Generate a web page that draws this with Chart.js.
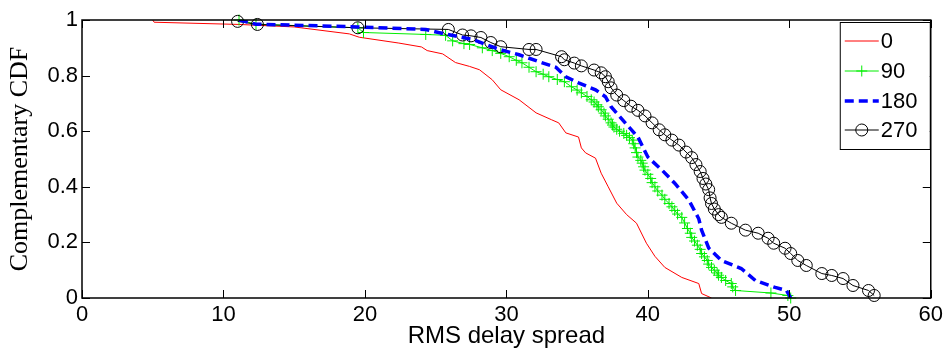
<!DOCTYPE html>
<html><head><meta charset="utf-8">
<script src="https://cdn.jsdelivr.net/npm/chart.js@4"></script>
<style>html,body{margin:0;padding:0;background:#fff}</style>
</head><body>
<canvas id="c" width="947" height="356"></canvas>
<script>
// ---- data ----
const seriesLabels = ['0', '90', '180', '270'];
const xTickValues = [0, 10, 20, 30, 40, 50, 60];
const yTickValues = [0, 0.2, 0.4, 0.6, 0.8, 1];
const yTickLabels = ['0', '0.2', '0.4', '0.6', '0.8', '1'];

const s0_x = [5.0, 5.1, 11.1, 15.0, 18.9, 19.6, 22.4, 24.0, 24.4, 25.5, 26.4, 27.4, 28.1, 29.0, 29.6, 30.9, 32.1, 33.2, 33.7, 34.2, 35.1, 35.3, 35.6, 36.3, 36.7, 37.2, 37.8, 38.5, 39.2, 39.9, 40.5, 41.2, 42.4, 43.6, 43.8, 44.5];
const s0_y = [1.0, 0.992, 0.984, 0.975, 0.950, 0.938, 0.917, 0.903, 0.890, 0.878, 0.847, 0.833, 0.821, 0.785, 0.749, 0.713, 0.666, 0.641, 0.630, 0.594, 0.579, 0.540, 0.522, 0.503, 0.449, 0.400, 0.341, 0.300, 0.269, 0.197, 0.150, 0.110, 0.074, 0.052, 0.016, 0.0];

const s90_x = [11.1, 12.3, 19.5, 19.9, 24.3, 25.7, 26.2, 27.0, 27.4, 28.3, 29.0, 29.6, 30.2, 30.7, 31.1, 31.6, 32.1, 32.6, 33.0, 33.6, 34.1, 34.6, 35.0, 35.3, 35.7, 36.0, 36.2, 36.4, 36.5, 36.7, 36.9, 37.0, 37.2, 37.4, 37.5, 37.6, 37.8, 38.0, 38.3, 38.5, 38.7, 38.9, 39.0, 39.1, 39.2, 39.3, 39.5, 39.6, 39.7, 39.8, 40.0, 40.2, 40.3, 40.5, 40.7, 41.0, 41.2, 41.5, 41.7, 41.9, 42.1, 42.4, 42.6, 42.8, 43.0, 43.1, 43.3, 43.5, 43.7, 43.8, 44.0, 44.2, 44.3, 44.5, 44.7, 44.9, 45.0, 45.2, 45.5, 45.9, 46.0, 46.2, 48.7, 49.9, 50.1];
const s90_y = [1.0, 0.985, 0.972, 0.955, 0.948, 0.945, 0.925, 0.915, 0.912, 0.900, 0.890, 0.880, 0.868, 0.855, 0.846, 0.830, 0.814, 0.805, 0.796, 0.786, 0.778, 0.760, 0.748, 0.738, 0.725, 0.713, 0.705, 0.695, 0.688, 0.677, 0.665, 0.655, 0.643, 0.630, 0.622, 0.615, 0.607, 0.600, 0.592, 0.585, 0.577, 0.568, 0.555, 0.540, 0.523, 0.507, 0.495, 0.485, 0.472, 0.460, 0.445, 0.430, 0.415, 0.400, 0.385, 0.370, 0.355, 0.340, 0.328, 0.315, 0.302, 0.290, 0.270, 0.250, 0.233, 0.218, 0.205, 0.190, 0.175, 0.160, 0.148, 0.135, 0.122, 0.110, 0.100, 0.090, 0.082, 0.074, 0.063, 0.052, 0.040, 0.027, 0.018, 0.009, 0.0];

const s180_x = [11.1, 12.3, 19.5, 24.3, 25.2, 27.6, 29.5, 30.9, 32.3, 33.5, 34.2, 35.1, 36.3, 37.0, 37.4, 38.4, 39.3, 40.0, 41.0, 41.9, 42.9, 43.6, 43.8, 44.3, 45.2, 46.6, 47.6, 49.0, 49.8, 50.1];
const s180_y = [1.0, 0.985, 0.975, 0.966, 0.955, 0.930, 0.894, 0.875, 0.850, 0.830, 0.796, 0.774, 0.749, 0.724, 0.688, 0.630, 0.579, 0.507, 0.460, 0.413, 0.352, 0.285, 0.244, 0.180, 0.135, 0.106, 0.063, 0.038, 0.027, 0.0];

const s270_x = [11.0, 12.4, 19.5, 25.9, 26.9, 27.5, 28.2, 28.9, 29.6, 31.6, 32.1, 33.9, 34.1, 34.8, 35.3, 36.2, 36.7, 37.0, 37.2, 37.4, 37.8, 38.3, 38.8, 39.3, 39.8, 40.3, 40.8, 41.2, 41.7, 42.2, 42.7, 43.1, 43.4, 43.7, 43.9, 44.1, 44.3, 44.4, 44.5, 44.7, 45.0, 45.2, 45.9, 46.9, 47.8, 48.5, 48.9, 49.7, 50.1, 50.6, 51.2, 52.3, 53.0, 53.8, 54.5, 55.6, 56.0];
const s270_y = [0.995, 0.984, 0.972, 0.966, 0.946, 0.943, 0.937, 0.919, 0.904, 0.894, 0.894, 0.868, 0.857, 0.845, 0.835, 0.820, 0.810, 0.796, 0.778, 0.756, 0.730, 0.710, 0.690, 0.675, 0.655, 0.630, 0.605, 0.587, 0.568, 0.550, 0.525, 0.505, 0.480, 0.455, 0.430, 0.410, 0.390, 0.360, 0.340, 0.320, 0.300, 0.290, 0.269, 0.244, 0.233, 0.215, 0.197, 0.179, 0.160, 0.135, 0.117, 0.088, 0.081, 0.070, 0.045, 0.027, 0.009];

const zip = (xs, ys) => xs.map((x, i) => ({ x: x, y: ys[i] }));

const SANS = 'Liberation Sans, Arial, sans-serif';
const SERIF = 'Liberation Serif, Times New Roman, serif';

const datasets = [
  { label: seriesLabels[0], data: zip(s0_x, s0_y), borderColor: '#ff0000', borderWidth: 1, pointRadius: 0, showLine: true, order: 4 },
  { label: seriesLabels[1], data: zip(s90_x, s90_y), borderColor: '#00ee00', borderWidth: 1, pointStyle: 'cross', pointRadius: 5.5, pointBorderColor: '#00ee00', pointBorderWidth: 1, showLine: true, order: 3, clip: false },
  { label: seriesLabels[2], data: zip(s180_x, s180_y), borderColor: '#0000ff', borderWidth: 3.5, borderDash: [9, 5], pointRadius: 0, showLine: true, order: 1 },
  { label: seriesLabels[3], data: zip(s270_x, s270_y), borderColor: '#000000', borderWidth: 1, pointStyle: 'circle', pointRadius: 6, pointBorderColor: '#000000', pointBackgroundColor: 'rgba(0,0,0,0)', pointBorderWidth: 1, showLine: true, order: 2, clip: false }
];

const frame = {
  id: 'frame',
  afterDraw(chart) {
    const { ctx, chartArea: a, scales: { x, y } } = chart;
    ctx.save();
    ctx.strokeStyle = '#000';
    ctx.lineWidth = 1;
    const TL = 8;
    ctx.beginPath();
    xTickValues.forEach(v => {
      const px = Math.round(x.getPixelForValue(v)) + 0.5;
      ctx.moveTo(px, a.bottom); ctx.lineTo(px, a.bottom - TL);
      ctx.moveTo(px, a.top); ctx.lineTo(px, a.top + TL);
    });
    yTickValues.forEach(v => {
      const py = Math.round(y.getPixelForValue(v)) + 0.5;
      ctx.moveTo(a.left, py); ctx.lineTo(a.left + TL, py);
      ctx.moveTo(a.right, py); ctx.lineTo(a.right - TL, py);
    });
    ctx.stroke();
    ctx.lineWidth = 1.5;
    ctx.strokeRect(a.left, a.top, a.right - a.left, a.bottom - a.top);

    // legend box
    const bx = a.right - 91, by = a.top + 2, bw = 90, bh = 127;
    ctx.fillStyle = '#fff';
    ctx.fillRect(bx, by, bw, bh);
    ctx.lineWidth = 1;
    ctx.strokeRect(bx + 0.5, by + 0.5, bw, bh);
    const rows = [19, 49, 79, 108];
    ctx.font = '22px ' + SANS;
    ctx.textBaseline = 'middle';
    ctx.textAlign = 'left';
    datasets.forEach((d, i) => {
      const yy = by + rows[i];
      const x0 = bx + 5, x1 = bx + 39;
      ctx.save();
      ctx.strokeStyle = d.borderColor;
      ctx.lineWidth = d.borderWidth;
      if (d.borderDash) ctx.setLineDash(d.borderDash);
      ctx.beginPath(); ctx.moveTo(x0, yy); ctx.lineTo(x1, yy); ctx.stroke();
      ctx.restore();
      if (d.pointStyle && d.pointRadius > 0) {
        const cx = (x0 + x1) / 2;
        ctx.save();
        ctx.strokeStyle = d.pointBorderColor; ctx.lineWidth = 1;
        ctx.beginPath();
        if (d.pointStyle === 'circle') {
          ctx.arc(cx, yy, d.pointRadius, 0, Math.PI * 2);
        } else {
          ctx.moveTo(cx - d.pointRadius, yy); ctx.lineTo(cx + d.pointRadius, yy);
          ctx.moveTo(cx, yy - d.pointRadius); ctx.lineTo(cx, yy + d.pointRadius);
        }
        ctx.stroke();
        ctx.restore();
      }
      ctx.fillStyle = '#000';
      ctx.fillText(d.label, bx + 41, yy + 1);
    });
    ctx.restore();
  }
};

new Chart(document.getElementById('c'), {
  type: 'scatter',
  data: { datasets: datasets },
  options: {
    responsive: false,
    animation: false,
    devicePixelRatio: 1,
    layout: { padding: { left: 0, right: 14, top: 20, bottom: 0 } },
    plugins: { legend: { display: false }, tooltip: { enabled: false } },
    elements: { line: { tension: 0, fill: false } },
    scales: {
      x: {
        type: 'linear', min: 0, max: 60,
        afterBuildTicks: s => { s.ticks = xTickValues.map(v => ({ value: v })); },
        afterFit: s => { s.height = 58; },
        grid: { display: false, drawTicks: false },
        border: { display: false },
        ticks: { color: '#000', font: { family: SANS, size: 22 }, padding: 4, maxRotation: 0, autoSkip: false, callback: v => String(v) },
        title: { display: true, text: 'RMS delay spread', color: '#000', font: { family: SANS, size: 24 }, padding: { top: 0, bottom: 5 } }
      },
      y: {
        type: 'linear', min: 0, max: 1,
        afterBuildTicks: s => { s.ticks = yTickValues.map(v => ({ value: v })); },
        afterFit: s => { s.width = 82; },
        grid: { display: false, drawTicks: false },
        border: { display: false },
        ticks: { color: '#000', font: { family: SANS, size: 22 }, padding: 4, autoSkip: false, callback: (v, i) => yTickLabels[i] },
        title: { display: true, text: 'Complementary CDF', color: '#000', font: { family: SERIF, size: 26 }, padding: { top: 5, bottom: 0 } }
      }
    }
  },
  plugins: [frame]
});
</script>
</body></html>
